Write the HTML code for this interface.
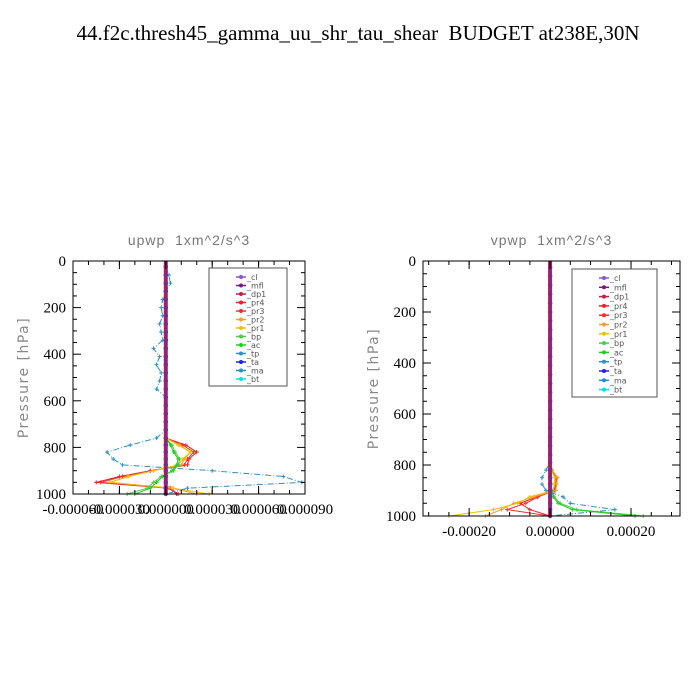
<!DOCTYPE html>
<html><head><meta charset="utf-8"><style>
body{margin:0;background:#fff}
svg{display:block}
</style></head><body>
<svg id="c" width="700" height="700" xmlns="http://www.w3.org/2000/svg">
<rect width="700" height="700" fill="#fff"/>
<text x="358" y="40" text-anchor="middle" font-family="Liberation Serif, serif" font-size="21" style="white-space:pre">44.f2c.thresh45_gamma_uu_shr_tau_shear  BUDGET at238E,30N</text>
</svg>
<script>
const levels=[25,60,95,130,165,200,235,270,305,340,375,410,445,480,515,550,585,620,655,690,725,760,790,820,850,875,900,925,950,975,1000];
const seriesNames=['_cl','_mfl','_dp1','_pr4','_pr3','_pr2','_pr1','_bp','_ac','_tp','_ta','_ma','_bt'];
const seriesColors=['#8855cc','#7a1a7a','#c0204a','#e8202a','#f03030','#ff9a30','#f0c000','#50c850','#20d020','#3090c0','#2020f0','#2090d0','#00e0e0'];
const Z=new Array(21).fill(0);
// left panel (upwp) values, units 1e-5
const upwpPr4=Z.concat([0,1.3,2.0,1.5,1.4,-1.0,-3.0,-4.5,0.2,0.7]);
const upwpPr3=Z.concat([0,1.1,1.8,1.4,1.2,-1.0,-2.8,-4.2,0.3,0.8]);
const upwpPr2=Z.concat([0,0.9,1.6,1.2,1.0,-0.8,-2.5,-3.6,0.4,2.0]);
const upwpPr1=Z.concat([0,0.8,1.6,1.1,0.8,-0.8,-2.4,-3.6,0.5,2.8]);
const upwpBp=Z.concat([0,0.4,0.6,0.9,0.8,0.5,-0.3,-0.8,-1.2,-2.5]);
const upwpAc=Z.concat([0,0.3,0.5,0.8,0.7,0.4,-0.2,-0.6,-1.0,-2.0]);
const upwpTp=[0,0.2,0.3,0,-0.2,-0.3,-0.2,-0.4,-0.3,-0.2,-0.8,-0.4,-0.6,-0.3,-0.4,-0.6,0,0,0,0,0,-0.6,-2.3,-3.8,-3.4,-2.8,3.0,7.6,8.8,1.4,0];
// right panel (vpwp) values, units 1e-5
const vpwpPr4=Z.concat([0,0,0.5,1.7,1.5,1.2,-3.2,-7.4,-5.0,0]);
const vpwpPr3=Z.concat([0,0,0.4,1.5,1.4,1.0,-3.0,-6.0,-10.6,0]);
const vpwpPr2=Z.concat([0,0,0.5,1.8,1.6,1.4,-4.0,-9.0,-12.0,-16.0]);
const vpwpPr1=Z.concat([0,0,0.3,1.2,1.0,0.8,-5.0,-8.0,-14.0,-25.0]);
const vpwpBp=Z.concat([0,0,0,0,0,0.5,1.0,2.5,6.6,23.0]);
const vpwpAc=Z.concat([0,0,0,0,0,0.4,0.8,2.0,5.5,21.0]);
const vpwpTp=Z.concat([0,0,-1.0,-2.0,-2.0,-1.0,3.2,5.0,16.0,0]);

const NS='http://www.w3.org/2000/svg';
const svg=document.getElementById('c');
function mk(tag,attrs,parent){const e=document.createElementNS(NS,tag);for(const k in attrs)e.setAttribute(k,attrs[k]);(parent||svg).appendChild(e);return e;}

function panel(cfg){
  const g=mk('g',{});
  
  
  const xs=v=>cfg.x0+(v-cfg.xmin)/(cfg.xmax-cfg.xmin)*(cfg.x1-cfg.x0);
  const ys=p=>cfg.y0+p/1000*(cfg.y1-cfg.y0);
  const sub=mk('text',{x:(cfg.x0+cfg.x1)/2,y:cfg.y0-16,'text-anchor':'middle','font-family':'Liberation Sans, sans-serif','font-size':14,fill:'#777','letter-spacing':'1','style':'white-space:pre'},g);
  sub.textContent=cfg.title;
  
  
  cfg.series.forEach(s=>{
    const pts=levels.map((p,i)=>xs(s.vals[i]*1e-5).toFixed(1)+','+ys(p).toFixed(1)).join(' ');
    const pl=mk('polyline',{points:pts,fill:'none',stroke:s.color,'stroke-width':1,'stroke-dasharray':s.dash||''},g);
    
    
    levels.forEach((p,i)=>{const cx=xs(s.vals[i]*1e-5),cy=ys(p);
      mk('path',{d:`M${cx-2},${cy}h4M${cx},${cy-2}v4`,stroke:s.color,'stroke-width':1},g);});
  });
  const zl=mk('line',{x1:xs(0),x2:xs(0),y1:cfg.y0,y2:cfg.y1,stroke:'#c0204a','stroke-width':4},g);
  
  
  mk('line',{x1:xs(0),x2:xs(0),y1:cfg.y0,y2:cfg.y1,stroke:'#7a2a8a','stroke-width':2},g);
  levels.forEach(p=>mk('circle',{cx:xs(0),cy:ys(p),r:2.2,fill:'#7a2a8a'},g));
  const fr=mk('rect',{x:cfg.x0,y:cfg.y0,width:cfg.x1-cfg.x0,height:cfg.y1-cfg.y0,fill:'none',stroke:'#000','stroke-width':1},g);
  
  
  for(let p=0;p<=1000;p+=50){const y=ys(p),L=p%200===0?8:4;
    mk('line',{x1:cfg.x0,x2:cfg.x0+L,y1:y,y2:y,stroke:'#000'},g);
    mk('line',{x1:cfg.x1,x2:cfg.x1-L,y1:y,y2:y,stroke:'#000'},g);
    if(p%200===0){const t=mk('text',{x:cfg.x0-7,y:y+5,'text-anchor':'end','font-family':'Liberation Serif, serif','font-size':15},g);t.textContent=p;
      }}
  cfg.xticks.forEach((v,i)=>{const x=xs(v);
    mk('line',{x1:x,x2:x,y1:cfg.y1,y2:cfg.y1-8,stroke:'#000'},g);
    mk('line',{x1:x,x2:x,y1:cfg.y0,y2:cfg.y0+8,stroke:'#000'},g);
    const t=mk('text',{x:x,y:cfg.y1+20,'text-anchor':'middle','font-family':'Liberation Serif, serif','font-size':15},g);t.textContent=cfg.xlabels[i];
    });
  cfg.xminor.forEach(v=>{const x=xs(v);
    mk('line',{x1:x,x2:x,y1:cfg.y1,y2:cfg.y1-4,stroke:'#000'},g);
    mk('line',{x1:x,x2:x,y1:cfg.y0,y2:cfg.y0+4,stroke:'#000'},g);});
  const yl=mk('text',{x:0,y:0,transform:`translate(${cfg.x0-45},${(cfg.y0+cfg.y1)/2}) rotate(-90)`,'text-anchor':'middle','font-family':'DejaVu Sans, sans-serif','font-size':14,fill:'#888','letter-spacing':'1.5'},g);
  yl.textContent='Pressure [hPa]';
  
  const lg=mk('g',{},g);
  
  mk('rect',{x:cfg.lx,y:cfg.ly,width:cfg.lw,height:cfg.lh,fill:'#fff',stroke:'#555'},lg);
  seriesNames.forEach((n,i)=>{const y=cfg.ly+9+i*cfg.ls;
    const e=mk('g',{},lg);
    mk('line',{x1:cfg.lx+27,x2:cfg.lx+37,y1:y,y2:y,stroke:seriesColors[i],'stroke-width':1.5},e);
    mk('circle',{cx:cfg.lx+32,cy:y,r:2,fill:seriesColors[i]},e);
    const t=mk('text',{x:cfg.lx+38,y:y+3,'font-family':'DejaVu Sans, sans-serif','font-size':8,fill:'#555'},e);t.textContent=n;});
}
function ser(pr4,pr3,pr2,pr1,bp,ac,tp){return [
 {key:'pr4',vals:pr4,color:seriesColors[3]},{key:'pr3',vals:pr3,color:seriesColors[4]},
 {key:'pr2',vals:pr2,color:seriesColors[5]},{key:'pr1',vals:pr1,color:seriesColors[6]},
 {key:'bp',vals:bp,color:seriesColors[7]},{key:'ac',vals:ac,color:seriesColors[8]},
 {key:'tp',vals:tp,color:seriesColors[9],dash:'6,2,1,2'}];}
const m1=[];for(let v=-0.00006;v<=0.00009+1e-9;v+=0.00001)m1.push(v);
panel({name:'upwp-panel',title:'upwp  1xm^2/s^3',x0:73,x1:305,y0:261,y1:494,xmin:-0.00006,xmax:0.00009,
 xticks:[-0.00006,-0.00003,0,0.00003,0.00006,0.00009],xlabels:['-0.000060','-0.000030','0.000000','0.000030','0.000060','0.000090'],xminor:m1,
 lx:209,ly:268,lw:78,lh:118,ls:8.5,series:ser(upwpPr4,upwpPr3,upwpPr2,upwpPr1,upwpBp,upwpAc,upwpTp)});
const m2=[];for(let v=-0.0003;v<=0.0003+1e-9;v+=0.00005)m2.push(v);
panel({name:'vpwp-panel',title:'vpwp  1xm^2/s^3',x0:423,x1:680,y0:261,y1:516,xmin:-0.000314,xmax:0.000321,
 xticks:[-0.0002,0,0.0002],xlabels:['-0.00020','0.00000','0.00020'],xminor:m2,
 lx:572,ly:269,lw:85,lh:128,ls:9.3,series:ser(vpwpPr4,vpwpPr3,vpwpPr2,vpwpPr1,vpwpBp,vpwpAc,vpwpTp)});
</script>
</body></html>
